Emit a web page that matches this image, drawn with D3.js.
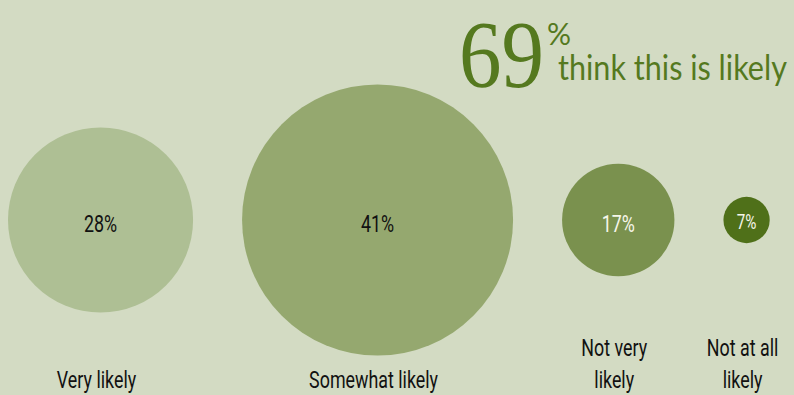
<!DOCTYPE html>
<html><head><meta charset="utf-8">
<script src="https://cdn.jsdelivr.net/npm/d3@7"></script>
<style>
html,body{margin:0;padding:0;background:#d3dbc3;}
svg{display:block;}
</style></head>
<body>
<div id="chart"></div>
<script>
const categories = ["Very likely", "Somewhat likely", "Not very likely", "Not at all likely"];
const labelLines = [["Very likely"], ["Somewhat likely"], ["Not very", "likely"], ["Not at all", "likely"]];
const values = [28, 41, 17, 7];
const headlineValue = 69;
const headlineText = "think this is likely";

const colors = ["#aebf94", "#95a86f", "#7a914e", "#4f7019"];
const textColors = ["#111", "#111", "#f6f6ea", "#f6f6ea"];

const W = 794, H = 395;
const svg = d3.select("#chart").append("svg").attr("width", W).attr("height", H);
svg.append("rect").attr("width", W).attr("height", H).attr("fill", "#d3dbc3");

const rScale = d3.scaleLinear().domain([0, d3.max(values)]).range([0, 135.5]);
const gap = 49, x0 = 8, cy = 220;
let cursor = x0;
const nodes = values.map((v, i) => {
  const r = rScale(v);
  const cx = cursor + r;
  cursor += 2 * r + gap;
  return {v, r, cx, i};
});

const condensed = "Roboto,'Open Sans',sans-serif";
const squeeze = 0.76;

svg.selectAll("circle.b").data(nodes).join("circle")
  .attr("class", "b")
  .attr("cx", d => d.cx).attr("cy", cy).attr("r", d => d.r)
  .attr("fill", d => colors[d.i]);

svg.selectAll("text.v").data(nodes).join("text")
  .attr("class", "v")
  .attr("transform", d => `translate(${d.cx},${cy + (d.v < 10 ? 9 : 12)}) scale(${squeeze},1)`)
  .attr("text-anchor", "middle")
  .attr("font-family", condensed)
  .attr("font-size", d => d.v < 10 ? 20 : 23.5)
  .attr("fill", d => textColors[d.i])
  .text(d => d.v + "%");

const lab = svg.selectAll("g.lab").data(nodes).join("g").attr("class", "lab");
lab.each(function(d) {
  const lines = labelLines[d.i];
  const g = d3.select(this);
  lines.forEach((t, k) => {
    const baseY = 388 - (lines.length - 1 - k) * 32;
    g.append("text")
      .attr("transform", `translate(${d.cx - 4},${baseY}) scale(${squeeze},1)`)
      .attr("text-anchor", "middle")
      .attr("font-family", condensed)
      .attr("font-size", 23.5)
      .attr("fill", "#111")
      .text(t);
  });
});

// headline: fit texts horizontally by scaling
function fitText(sel, x, y, targetW) {
  const w = sel.node().getComputedTextLength();
  sel.attr("transform", `translate(${x},${y}) scale(${targetW / w},1)`);
}
const hl = svg.append("g").attr("fill", "#55791f");
const big = hl.append("text")
  .attr("font-family", "'Liberation Serif',serif")
  .attr("font-size", 95)
  .text(headlineValue);
fitText(big, 459, 87, 85);
hl.append("text")
  .attr("x", 547).attr("y", 45)
  .attr("font-family", "'Lato','Noto Sans',sans-serif")
  .attr("font-size", 30)
  .text("%");
const sub = hl.append("text")
  .attr("font-family", "'Lato','Noto Sans',sans-serif")
  .attr("font-size", 35)
  .text(headlineText);
fitText(sub, 558, 80, 229);
</script>
</body></html>
